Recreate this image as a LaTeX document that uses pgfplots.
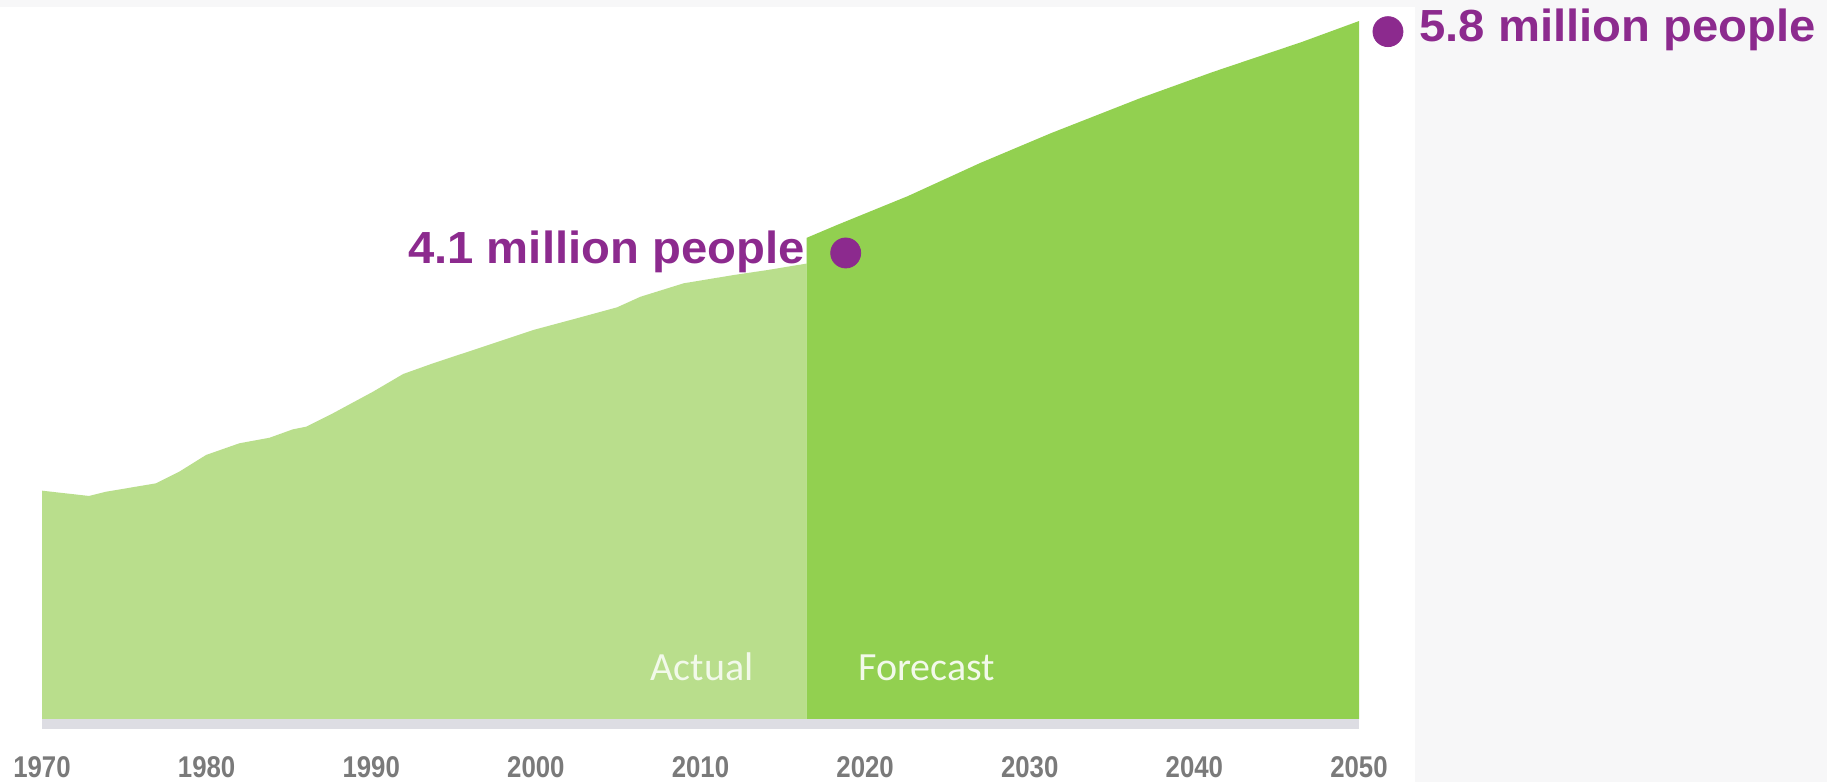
\documentclass[border=0pt]{standalone}
\usepackage{pgfplots}
\pgfplotsset{compat=1.18}
\usepackage{fontspec}
\setmainfont{Liberation Sans}
\newfontfamily\annfont[FakeStretch=1.05]{Liberation Sans}
\newfontfamily\tickfont[FakeStretch=0.86]{Liberation Sans}
\newfontfamily\calfont{Carlito}
\definecolor{lightgreen}{HTML}{B9DE8C}
\definecolor{darkgreen}{HTML}{92D050}
\definecolor{purp}{HTML}{8C2A8E}
\definecolor{stripgray}{HTML}{DDDDE3}
\definecolor{bggray}{HTML}{F7F7F8}
\definecolor{tickgray}{HTML}{7A7A7A}
\definecolor{labwhite}{HTML}{F2F9EA}

\begin{document}
\begin{tikzpicture}
\useasboundingbox (0pt,0pt) rectangle (913.5pt,391pt);
\fill[bggray] (0pt,0pt) rectangle (913.5pt,391pt);
\fill[white] (0pt,0pt) rectangle (707.5pt,387.5pt);
\begin{axis}[
  at={(21pt,26.5pt)}, anchor=south west,
  scale only axis, width=658.5pt, height=364.5pt,
  xmin=1970, xmax=2050, ymin=-0.0831, ymax=5.977,
  axis lines*=left, axis line style={draw=none},
  ytick=\empty,
  xtick={1970,1980,1990,2000,2010,2020,2030,2040,2050},
  xticklabels={1970,1980,1990,2000,2010,2020,2030,2040,2050},
  major tick length=0pt, tick style={draw=none},
  xticklabel style={font=\tickfont\bfseries\fontsize{15pt}{16pt}\selectfont, text=tickgray, anchor=north, inner sep=0pt, yshift=-13.5pt},
  clip=false,
]
\addplot[fill=lightgreen, draw=none] coordinates {
(1970.0,1.898) (1971.5,1.875) (1972.86,1.854) (1973.88,1.889) (1976.92,1.959) (1978.34,2.056)
(1979.97,2.195) (1981.99,2.292) (1983.82,2.338) (1985.24,2.408) (1986.05,2.430)
(1987.67,2.541) (1990.11,2.721) (1991.94,2.868) (1993.76,2.957) (1996.81,3.095)
(1999.85,3.234) (2002.49,3.331) (2004.93,3.422) (2006.35,3.510) (2008.98,3.622)
(2012.03,3.691) (2014.06,3.732) (2016.45,3.786)
} \closedcycle;
\addplot[fill=darkgreen, draw=none] coordinates {
(2016.45,4.0) (2018.28,4.106) (2022.60,4.347) (2026.99,4.622) (2031.31,4.871)
(2036.73,5.162) (2041.11,5.378) (2046.53,5.628) (2050,5.802)
} \closedcycle;
\addplot[fill=stripgray, draw=none] coordinates {(1970,-0.0831) (2050,-0.0831) (2050,0) (1970,0)} -- cycle;
\addplot[only marks, mark=*, mark size=7.5pt, mark options={draw=purp, fill=purp}] coordinates {(2018.82,3.874) (2051.76,5.714)};
\node[anchor=base east, inner sep=0pt, text=purp, font=\annfont\bfseries\fontsize{22.5pt}{23pt}\selectfont] at (axis cs:2016.35,3.79) {4.1 million people};
\node[anchor=base west, inner sep=0pt, text=purp, font=\annfont\bfseries\fontsize{22.5pt}{23pt}\selectfont] at (axis cs:2053.65,5.636) {5.8 million people};
\node[anchor=base east, inner sep=0pt, text=labwhite, font=\calfont\fontsize{20pt}{21pt}\selectfont] at (axis cs:2013.25,0.324) {Actual};
\node[anchor=base west, inner sep=0pt, text=labwhite, font=\calfont\fontsize{20pt}{21pt}\selectfont] at (axis cs:2019.57,0.324) {Forecast};
\end{axis}
\end{tikzpicture}
\end{document}
